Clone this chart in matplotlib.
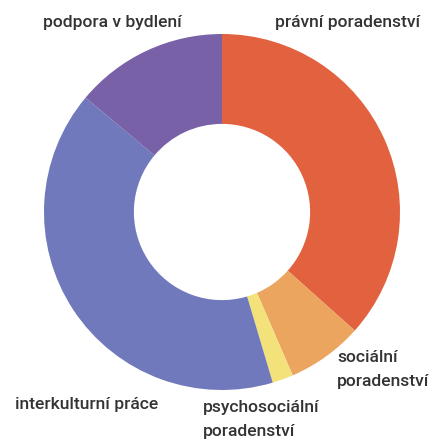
import matplotlib
matplotlib.use("Agg")
import matplotlib.pyplot as plt

categories = ["právní poradenství", "sociální\nporadenství", "psychosociální\nporadenství",
              "interkulturní práce", "podpora v bydlení"]
values = [36.6, 6.9, 1.9, 40.7, 13.9]
colors = ["#E2613F", "#EBA55F", "#F3E17A", "#6F79BB", "#7961A8"]

W, H = 433, 445
fig = plt.figure(figsize=(W / 100, H / 100), dpi=100)
fig.patch.set_facecolor("white")

cx, cy, r = 222, 212, 178
ax = fig.add_axes([(cx - r) / W, (H - cy - r) / H, 2 * r / W, 2 * r / H])
ax.pie(values, colors=colors, startangle=90, counterclock=False, radius=1.0,
       wedgeprops=dict(width=0.505, linewidth=0))
ax.set_xlim(-1, 1)
ax.set_ylim(-1, 1)
ax.set_aspect("equal")
ax.axis("off")

font = dict(family=["Roboto", "DejaVu Sans"], fontsize=12.6, fontweight="medium",
            color="#333333")
# label anchor positions in pixels (left x, top y)
label_pos = [(275, 15), (337, 350), (203, 400), (15, 397), (43, 15)]
for lab, (x, y) in zip(categories, label_pos):
    fig.text(x / W, 1 - y / H, lab, ha="left", va="top", linespacing=1.78, **font)

fig.savefig("out.png", dpi=100)
